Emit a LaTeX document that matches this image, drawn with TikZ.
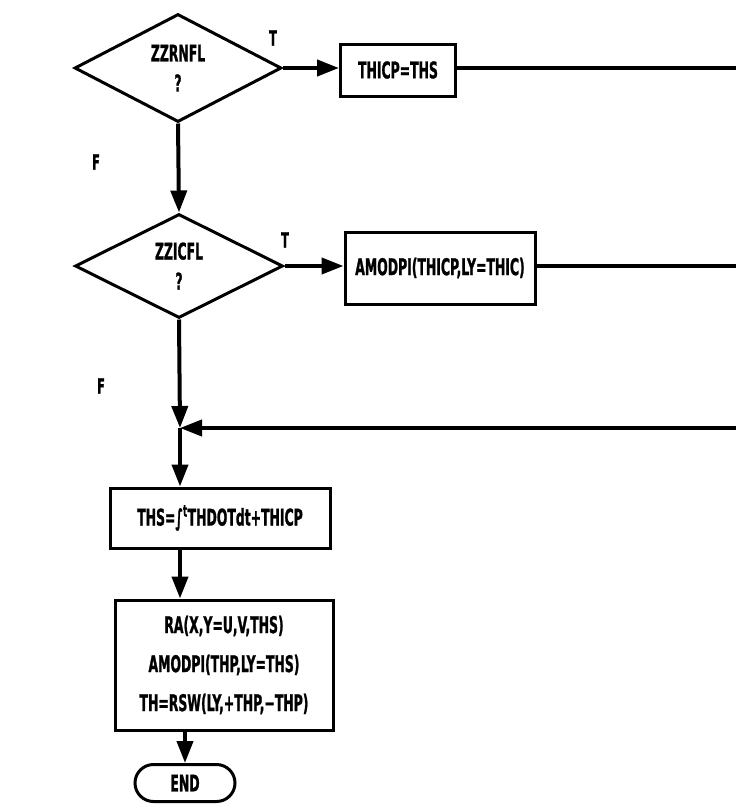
\documentclass[tikz,border=0pt]{standalone}
\usepackage{fontspec}
\newfontfamily\flowfont{DejaVu Sans Condensed}[FakeStretch=0.6,FakeBold=1]
\usetikzlibrary{shapes.geometric,shapes.misc,arrows.meta}
\begin{document}
\begin{tikzpicture}[x=1pt,y=-1pt,
  every node/.style={font=\flowfont\bfseries\fontsize{23}{25}\selectfont},
  box/.style={draw,line width=3pt,rectangle,inner sep=0pt},
  dec/.style={draw,line width=3pt,diamond,inner sep=0pt,align=center},
  term/.style={draw,line width=3pt,rounded rectangle,inner sep=0pt},
  flow/.style={line width=4pt,-{Triangle[length=22pt,width=16pt]}},
  wire/.style={line width=4pt},
  lbl/.style={font=\flowfont\bfseries\fontsize{21}{23}\selectfont}]
\useasboundingbox (0,0) rectangle (736,812);

\node[dec,minimum width=207pt,minimum height=108pt] (d1) at (178,68) {ZZRNFL\\[5pt]?};
\node[box,minimum width=115pt,minimum height=52pt] (b1) at (398,70) {THICP=THS};
\node[dec,minimum width=208pt,minimum height=104pt] (d2) at (179,266) {ZZICFL\\[5pt]?};
\node[box,minimum width=190pt,minimum height=72pt] (b2) at (440,268) {AMODPI(THICP,LY=THIC)};
\coordinate (j) at (180,428);
\coordinate (e1) at (736,68);
\coordinate (e2) at (736,266);
\coordinate (e3) at (736,428);
\node[box,minimum width=220pt,minimum height=60pt] (b3) at (220,518) {THS=∫\textsuperscript{t}THDOTdt+THICP};
\node[box,minimum width=218pt,minimum height=130pt,align=center] (b4) at (224,665)
  {RA(X,Y=U,V,THS)\\[14pt]AMODPI(THP,LY=THS)\\[14pt]TH=RSW(LY,+THP,−THP)};
\node[term,minimum width=100pt,minimum height=37pt] (end) at (185,783) {END};

\node[lbl] (t1) at (273,38) {T};
\node[lbl] (t2) at (285,240) {T};
\node[lbl] (f1) at (96,162) {F};
\node[lbl] (f2) at (101,386) {F};

\draw[flow] (d1.east) -- (d1.east -| b1.west);
\draw[wire] (b1.east |- e1) -- (e1);
\draw[flow] (d1.south) -- (d2.north);
\draw[flow] (d2.east) -- (d2.east -| b2.west);
\draw[wire] (b2.east |- e2) -- (e2);
\draw[flow] (d2.south) -- (j);
\draw[flow] (e3) -- (j);
\draw[flow] (j) -- (j |- b3.north);
\draw[flow] (b3.south -| j) -- (j |- b4.north);
\draw[flow] (b4.south -| end) -- (end.north);
\end{tikzpicture}
\end{document}
